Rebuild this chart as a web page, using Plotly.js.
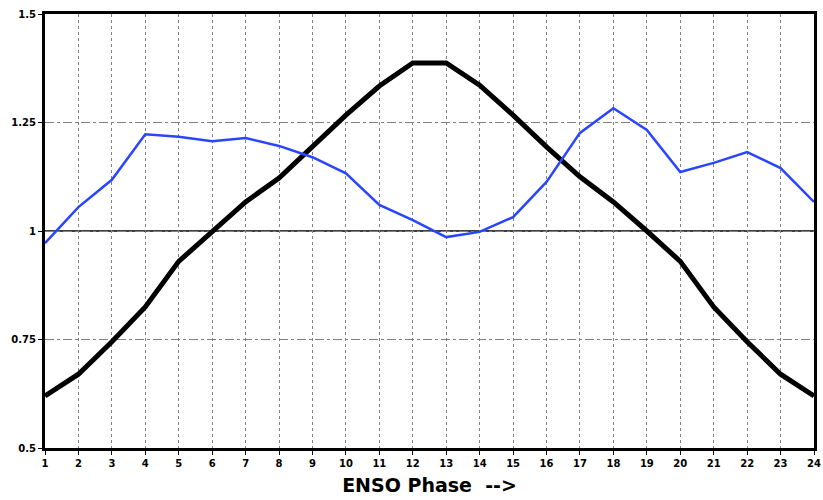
<!DOCTYPE html>
<html>
<head>
<meta charset="utf-8">
<script src="https://cdn.plot.ly/plotly-3.0.1.min.js"></script>
<style>html,body{margin:0;padding:0;background:#fff;}#chart{width:823px;height:500px;}</style>
</head>
<body>
<div id="chart"></div>
<script>
const phases = [1,2,3,4,5,6,7,8,9,10,11,12,13,14,15,16,17,18,19,20,21,22,23,24];
const blackSeries = [0.62,0.67,0.745,0.825,0.93,1.0,1.067,1.122,1.194,1.267,1.334,1.387,1.387,1.336,1.267,1.194,1.125,1.067,1.0,0.93,0.825,0.745,0.67,0.62];
const blueSeries = [0.972,1.055,1.118,1.223,1.217,1.207,1.214,1.196,1.17,1.133,1.06,1.025,0.986,0.998,1.032,1.113,1.226,1.283,1.233,1.136,1.157,1.182,1.145,1.067];
const yTickVals = [0.5,0.75,1,1.25,1.5];
const yTickText = ['0.5','0.75','1','1.25','1.5'];
const xTitle = 'ENSO Phase  -->';

const tickFont = {size: 10, family: 'DejaVu Sans, sans-serif', weight: 'bold', color: '#000'};

const traces = [
  {x: phases, y: blackSeries, mode: 'lines', line: {color: '#000000', width: 5}, hoverinfo: 'skip'},
  {x: phases, y: blueSeries, mode: 'lines', line: {color: '#2a45ff', width: 2.5}, hoverinfo: 'skip'}
];

const layout = {
  width: 823, height: 500,
  margin: {l: 45, r: 9, t: 14, b: 52},
  paper_bgcolor: '#ffffff', plot_bgcolor: '#ffffff',
  showlegend: false,
  font: {family: 'DejaVu Sans, sans-serif', color: '#000'},
  xaxis: {
    range: [1, 24], tickvals: phases, ticktext: phases.map(String),
    showgrid: true, gridcolor: '#808080', griddash: 'dot', gridwidth: 1,
    showline: true, linecolor: '#000', linewidth: 3, mirror: true,
    ticks: 'outside', ticklen: 4, tickwidth: 1, tickcolor: '#000',
    tickfont: tickFont, ticklabeloverflow: 'allow',
    zeroline: false,
    title: {text: xTitle, font: {size: 19, family: 'DejaVu Sans, sans-serif', weight: 'bold'}, standoff: 11}
  },
  yaxis: {
    range: [0.5, 1.5], tickvals: yTickVals, ticktext: yTickText,
    showgrid: true, gridcolor: '#808080', griddash: 'dashdot', gridwidth: 1,
    showline: true, linecolor: '#000', linewidth: 3, mirror: true,
    ticks: 'outside', ticklen: 4, tickwidth: 1, tickcolor: '#000',
    tickfont: tickFont,
    zeroline: false
  },
  shapes: [
    {type: 'line', xref: 'paper', x0: 0, x1: 1, yref: 'y', y0: 1, y1: 1, line: {color: '#000', width: 1.5}, layer: 'below'}
  ]
};

Plotly.newPlot('chart', traces, layout, {staticPlot: true, displayModeBar: false});
</script>
</body>
</html>
